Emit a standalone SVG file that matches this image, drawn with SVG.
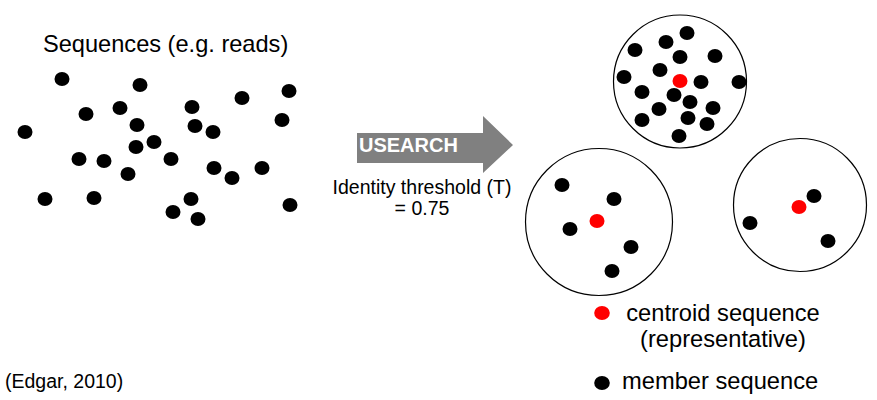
<svg xmlns="http://www.w3.org/2000/svg" width="877" height="400" viewBox="0 0 877 400">
<defs>
<style>
.t{font-family:"Liberation Sans",Arial,sans-serif;fill:#000}
.d{fill:#000}
.r{fill:#ff0000}
.c{fill:none;stroke:#000;stroke-width:1.2}
</style>
<ellipse id="dot" rx="7.5" ry="7"/>
</defs>
<rect width="877" height="400" fill="#fff"/>
<g id="sequences">
<text class="t" x="43" y="52" font-size="23.6">Sequences (e.g. reads)</text>
<g class="d">
<use href="#dot" x="62" y="79"/><use href="#dot" x="140" y="85"/><use href="#dot" x="86" y="114"/>
<use href="#dot" x="120" y="108"/><use href="#dot" x="192" y="107"/><use href="#dot" x="242" y="98"/>
<use href="#dot" x="289" y="91"/><use href="#dot" x="25" y="132"/><use href="#dot" x="137" y="125"/>
<use href="#dot" x="195" y="126"/><use href="#dot" x="213" y="132"/><use href="#dot" x="282" y="120"/>
<use href="#dot" x="154" y="142"/><use href="#dot" x="136" y="147"/><use href="#dot" x="79" y="159"/>
<use href="#dot" x="104" y="161"/><use href="#dot" x="171" y="159"/><use href="#dot" x="128" y="174"/>
<use href="#dot" x="214" y="168"/><use href="#dot" x="232" y="178"/><use href="#dot" x="262" y="168"/>
<use href="#dot" x="45" y="199"/><use href="#dot" x="94" y="198"/><use href="#dot" x="191" y="199"/>
<use href="#dot" x="173" y="212"/><use href="#dot" x="198" y="219"/><use href="#dot" x="290" y="205"/>
</g>
</g>
<g id="connectors">
<g id="usearch-arrow">
<polygon points="357,133 483,133 483,116 513,145 483,173 483,163 357,163" fill="#808080"/>
<text class="t" x="359" y="152" font-size="20" font-weight="bold" fill="#fff" style="fill:#fff">USEARCH</text>
</g>
</g>
<g id="threshold">
<text class="t" x="422" y="194" font-size="19.5" text-anchor="middle">Identity threshold (T)</text>
<text class="t" x="422" y="215" font-size="19.5" text-anchor="middle">= 0.75</text>
</g>
<g id="cluster1">
<circle class="c" cx="680" cy="81.5" r="66.5"/>
<g class="d">
<use href="#dot" x="687" y="33"/><use href="#dot" x="666" y="42"/><use href="#dot" x="635" y="50"/>
<use href="#dot" x="680" y="57"/><use href="#dot" x="715" y="56"/><use href="#dot" x="660" y="70"/>
<use href="#dot" x="624" y="77"/><use href="#dot" x="701" y="82"/><use href="#dot" x="739" y="82"/>
<use href="#dot" x="642" y="92"/><use href="#dot" x="674" y="95"/><use href="#dot" x="690" y="102"/>
<use href="#dot" x="659" y="109"/><use href="#dot" x="713" y="108"/><use href="#dot" x="642" y="120"/>
<use href="#dot" x="688" y="118"/><use href="#dot" x="707" y="124"/><use href="#dot" x="679" y="136"/>
</g>
<use href="#dot" class="r" x="680" y="81"/>
</g>
<g id="cluster2">
<circle class="c" cx="599" cy="222" r="73.5"/>
<g class="d">
<use href="#dot" x="562" y="185"/><use href="#dot" x="614" y="199"/><use href="#dot" x="570" y="229"/>
<use href="#dot" x="631" y="247"/><use href="#dot" x="612" y="271"/>
</g>
<use href="#dot" class="r" x="597" y="221"/>
</g>
<g id="cluster3">
<circle class="c" cx="800" cy="205" r="66.5"/>
<g class="d">
<use href="#dot" x="814" y="196"/><use href="#dot" x="750" y="223"/><use href="#dot" x="828" y="241"/>
</g>
<use href="#dot" class="r" x="799" y="207"/>
</g>
<g id="legend">
<ellipse class="r" cx="602" cy="313" rx="7.8" ry="7"/>
<text class="t" x="723" y="321" font-size="23.7" text-anchor="middle">centroid sequence</text>
<text class="t" x="723" y="347" font-size="23.7" text-anchor="middle">(representative)</text>
<ellipse class="d" cx="602" cy="383" rx="7.8" ry="7"/>
<text class="t" x="622" y="389" font-size="23.7">member sequence</text>
</g>
<g id="citation">
<text class="t" x="5" y="388" font-size="19.5">(Edgar, 2010)</text>
</g>
</svg>
